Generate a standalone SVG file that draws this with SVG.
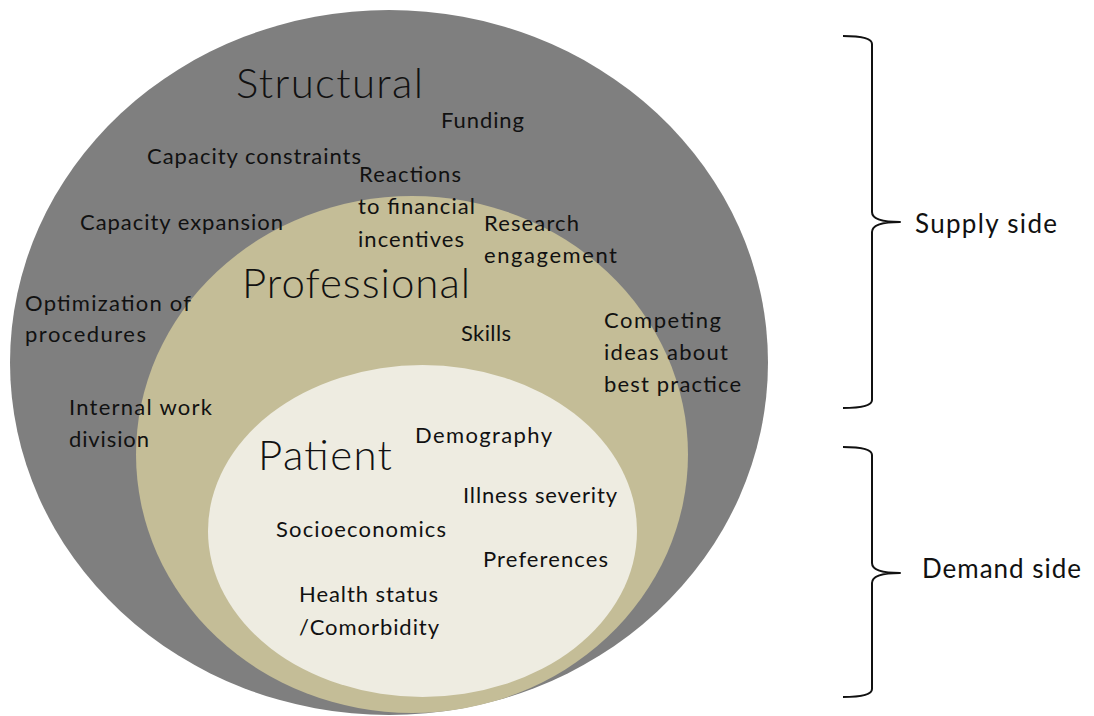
<svg xmlns="http://www.w3.org/2000/svg" width="1094" height="716" viewBox="0 0 1094 716">
<style>
text{font-family:Lato,"Open Sans","Liberation Sans",sans-serif;fill:#111;}
.t{font-size:22px;}
.h{font-size:42px;font-weight:300;}
.s{font-size:26px;}
.br{fill:none;stroke:#111;stroke-width:2;stroke-linejoin:round;}
</style>
<rect width="1094" height="716" fill="#fff"/>
<g id="structural">
<ellipse cx="389" cy="362.5" rx="379" ry="352.5" fill="#7f7f7f"/>
</g>
<g id="professional">
<ellipse cx="412" cy="454.5" rx="276" ry="258.5" fill="#c4bd97"/>
</g>
<g id="patient">
<ellipse cx="422.5" cy="531" rx="214.5" ry="166" fill="#eeece1"/>
</g>
<g id="structural-labels">
<text class="h" x="236" y="98" textLength="187">Structural</text>
<text class="t" x="441" y="128" textLength="83">Funding</text>
<text class="t" x="147" y="164" textLength="214">Capacity constraints</text>
<text class="t" x="80" y="230" textLength="203">Capacity expansion</text>
<text class="t" x="25" y="311" textLength="166">Optimization of</text>
<text class="t" x="25" y="342" textLength="121">procedures</text>
<text class="t" x="69" y="415" textLength="143">Internal work</text>
<text class="t" x="69" y="447" textLength="80">division</text>
</g>
<g id="professional-labels">
<text class="t" x="359" y="182" textLength="102">Reactions</text>
<text class="t" x="358" y="214" textLength="117">to financial</text>
<text class="t" x="358" y="247" textLength="106">incentives</text>
<text class="t" x="484" y="231" textLength="95">Research</text>
<text class="t" x="484" y="263" textLength="133">engagement</text>
<text class="h" x="242" y="298" textLength="228">Professional</text>
<text class="t" x="461" y="341" textLength="50">Skills</text>
<text class="t" x="604" y="328" textLength="117">Competing</text>
<text class="t" x="604" y="360" textLength="124">ideas about</text>
<text class="t" x="604" y="392" textLength="137">best practice</text>
</g>
<g id="patient-labels">
<text class="h" x="258" y="470" textLength="134">Patient</text>
<text class="t" x="415" y="443" textLength="137">Demography</text>
<text class="t" x="463" y="503" textLength="154">Illness severity</text>
<text class="t" x="276" y="537" textLength="170">Socioeconomics</text>
<text class="t" x="483" y="567" textLength="125">Preferences</text>
<text class="t" x="299" y="602" textLength="139">Health status</text>
<text class="t" x="299" y="635" textLength="140">/Comorbidity</text>
</g>
<g id="connectors">
<path class="br" d="M843,36 Q872,36 872,44 L872,212 Q872,222 900,222 Q872,222 872,232 L872,400 Q872,408 843,408"/>
<path class="br" d="M843,447 Q872,447 872,455 L872,563 Q872,573 900,573 Q872,573 872,583 L872,689 Q872,697 843,697"/>
</g>
<g id="labels">
<text class="s" x="915" y="233" textLength="142">Supply side</text>
<text class="s" x="922" y="578" textLength="159">Demand side</text>
</g>
</svg>
